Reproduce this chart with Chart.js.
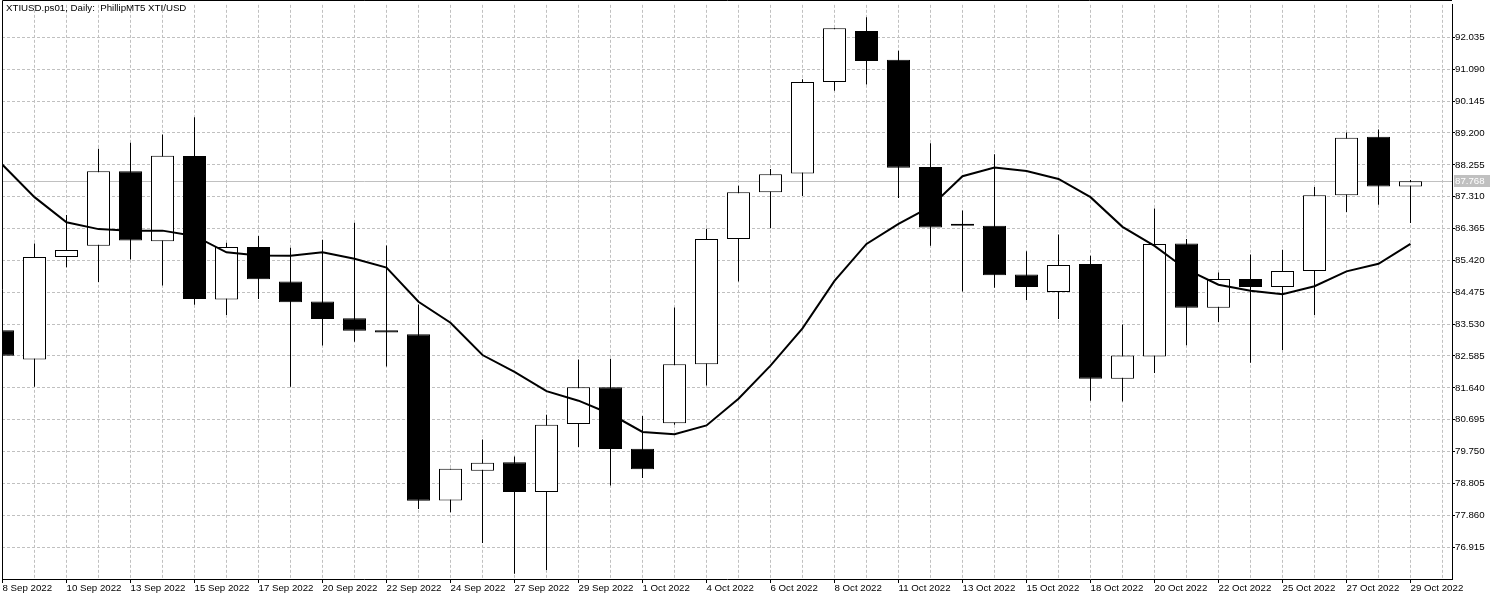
<!DOCTYPE html>
<html><head><meta charset="utf-8">
<script src="https://cdn.jsdelivr.net/npm/chart.js@4.4.0/dist/chart.umd.min.js"></script>
<style>html,body{margin:0;padding:0;background:#fff;}canvas{display:block;}</style>
</head><body>
<canvas id="c" width="1500" height="600"></canvas>
<script>
const chartTitle = 'XTIUSD.ps01, Daily:  PhillipMT5 XTI/USD';
const dates = ['8 Sep 2022','9 Sep 2022','10 Sep 2022','12 Sep 2022','13 Sep 2022','14 Sep 2022','15 Sep 2022','16 Sep 2022','17 Sep 2022','19 Sep 2022','20 Sep 2022','21 Sep 2022','22 Sep 2022','23 Sep 2022','24 Sep 2022','26 Sep 2022','27 Sep 2022','28 Sep 2022','29 Sep 2022','30 Sep 2022','1 Oct 2022','3 Oct 2022','4 Oct 2022','5 Oct 2022','6 Oct 2022','7 Oct 2022','8 Oct 2022','10 Oct 2022','11 Oct 2022','12 Oct 2022','13 Oct 2022','14 Oct 2022','15 Oct 2022','17 Oct 2022','18 Oct 2022','19 Oct 2022','20 Oct 2022','21 Oct 2022','22 Oct 2022','24 Oct 2022','25 Oct 2022','26 Oct 2022','27 Oct 2022','28 Oct 2022','29 Oct 2022'];
const openP  = [83.346,82.477,85.524,85.851,88.063,85.987,88.514,84.260,85.817,84.791,84.204,83.707,83.346,83.233,78.302,79.182,79.431,78.550,80.570,81.654,79.837,80.593,82.342,86.054,87.442,87.995,90.715,92.227,91.369,88.187,86.449,86.449,85.005,84.486,85.310,81.913,82.568,85.919,84.012,84.869,84.633,85.107,87.352,89.090,87.612];
const highP  = [83.400,85.919,86.765,88.729,88.909,89.158,89.665,85.942,86.145,85.795,86.032,86.540,85.863,84.113,79.239,80.108,79.600,80.841,82.477,82.500,80.807,84.023,86.359,87.634,88.131,90.794,92.306,92.633,91.640,88.898,86.901,88.571,85.693,86.190,85.558,83.516,86.957,86.054,85.061,85.592,85.738,87.600,89.214,89.304,87.803];
const lowP   = [82.530,81.676,85.219,84.779,85.445,84.678,84.102,83.798,84.272,81.676,82.895,83.008,82.274,78.043,77.952,77.038,76.124,76.237,79.882,78.742,78.968,80.548,81.710,84.791,86.370,87.330,90.455,90.636,87.273,85.851,84.497,84.610,84.249,83.685,81.259,81.236,82.082,82.906,83.594,82.387,82.760,83.798,86.856,87.070,86.528];
const closeP = [82.590,85.524,85.727,88.063,86.009,88.526,84.272,85.817,84.858,84.181,83.685,83.335,83.279,78.291,79.239,79.419,78.550,80.548,81.654,79.826,79.228,82.342,86.054,87.442,87.973,90.715,92.306,91.335,88.165,86.393,86.445,84.982,84.633,85.287,81.913,82.601,85.908,84.012,84.869,84.633,85.107,87.352,89.056,87.612,87.768];
const maValues = [88.255,87.296,86.551,86.348,86.303,86.303,86.145,85.659,85.565,85.558,85.659,85.468,85.208,84.192,83.572,82.613,82.116,81.541,81.259,80.864,80.333,80.266,80.525,81.315,82.300,83.403,84.813,85.908,86.506,87.014,87.916,88.176,88.074,87.837,87.296,86.416,85.851,85.152,84.700,84.520,84.418,84.655,85.095,85.321,85.908];
const priceTicks = [76.915,77.860,78.805,79.750,80.695,81.640,82.585,83.530,84.475,85.420,86.365,87.310,88.255,89.200,90.145,91.090,92.035];
const lastPrice = 87.768;

const FONT = 'Liberation Sans';
const GRID = '#c0c0c0';
const xMin = -1/64, xMax = -1/64 + 1450/32;

const bodyData = openP.map((o, i) => ({x: i, y: [o, closeP[i]]}));
const wickData = lowP.map((l, i) => ({x: i, y: [l, highP[i]]}));
const maData = maValues.map((v, i) => ({x: i, y: v}));
const bodyColors = openP.map((o, i) => closeP[i] >= o ? '#ffffff' : '#000000');

const overlay = {
  id: 'overlay',
  beforeDatasetsDraw(chart) {
    const {ctx, chartArea: a, scales: {y}} = chart;
    const yy = Math.round(y.getPixelForValue(lastPrice)) + 0.5;
    ctx.save();
    ctx.strokeStyle = GRID; ctx.lineWidth = 1;
    ctx.beginPath(); ctx.moveTo(a.left, yy); ctx.lineTo(a.right, yy); ctx.stroke();
    ctx.restore();
  },
  afterDraw(chart) {
    const {ctx, chartArea: a, scales: {y}} = chart;
    const yy = Math.round(y.getPixelForValue(lastPrice)) + 0.5;
    ctx.save();
    ctx.fillStyle = GRID;
    ctx.fillRect(y.left + 2, Math.round(yy - 6.5), 36, 12);
    ctx.fillStyle = '#ffffff';
    ctx.font = '9.7px "' + FONT + '"';
    ctx.textBaseline = 'middle'; ctx.textAlign = 'left';
    ctx.fillText(lastPrice.toFixed(3), y.left + 3, yy);
    ctx.strokeStyle = '#000'; ctx.lineWidth = 1;
    ctx.beginPath();
    ctx.moveTo(a.left + 0.5, a.bottom); ctx.lineTo(a.left + 0.5, 0.5); ctx.lineTo(a.right, 0.5);
    ctx.stroke();
    ctx.fillStyle = '#000';
    ctx.fillText(chartTitle, a.left + 4, 8);
    ctx.restore();
  }
};

new Chart(document.getElementById('c'), {
  type: 'bar',
  data: {
    datasets: [
      {type: 'line', data: maData, borderColor: '#000', borderWidth: 2, pointRadius: 0, tension: 0, order: 1},
      {type: 'bar', data: bodyData, backgroundColor: bodyColors, borderColor: '#000', borderWidth: 1, borderSkipped: false,
       barThickness: 23, grouped: false, minBarLength: 2, inflateAmount: 0, order: 2},
      {type: 'bar', data: wickData, backgroundColor: '#000', borderWidth: 0, barThickness: 1, grouped: false, inflateAmount: 0, order: 3}
    ]
  },
  options: {
    responsive: false, animation: false, devicePixelRatio: 1,
    layout: {padding: {left: 2, top: 1, right: 0, bottom: 0}},
    plugins: {legend: {display: false}, tooltip: {enabled: false}, title: {display: false}},
    scales: {
      x: {
        type: 'linear', min: xMin, max: xMax, offset: false,
        afterBuildTicks: s => { s.ticks = Array.from({length: 46}, (_, i) => ({value: i})); },
        afterFit: s => { s.height = 21; },
        grid: {offset: false, color: GRID, lineWidth: 1, drawTicks: true, tickLength: 4, tickWidth: 1,
               tickColor: c => (c.index % 2 === 0 && c.index < dates.length) ? '#000' : 'rgba(0,0,0,0)', tickBorderDash: []},
        border: {display: true, color: '#000', width: 1, dash: [3, 2]},
        ticks: {autoSkip: false, maxRotation: 0, minRotation: 0, align: 'start', padding: 0, color: '#000',
                font: {family: FONT, size: 9.7, lineHeight: 1},
                callback: (v, i) => (i % 2 === 0 && i < dates.length) ? dates[i] : ''}
      },
      y: {
        type: 'linear', position: 'right', min: 75.97, max: 93.0,
        afterBuildTicks: s => { s.ticks = priceTicks.map(v => ({value: v})); },
        afterFit: s => { s.width = 48; },
        grid: {color: GRID, lineWidth: 1, drawTicks: true, tickLength: 3, tickWidth: 1, tickColor: '#000', tickBorderDash: []},
        border: {display: true, color: '#000', width: 1, dash: [3, 2]},
        ticks: {padding: 0, color: '#000', font: {family: FONT, size: 9.7, lineHeight: 1},
                callback: v => v.toFixed(3)}
      }
    }
  },
  plugins: [overlay]
});
</script>
</body></html>
